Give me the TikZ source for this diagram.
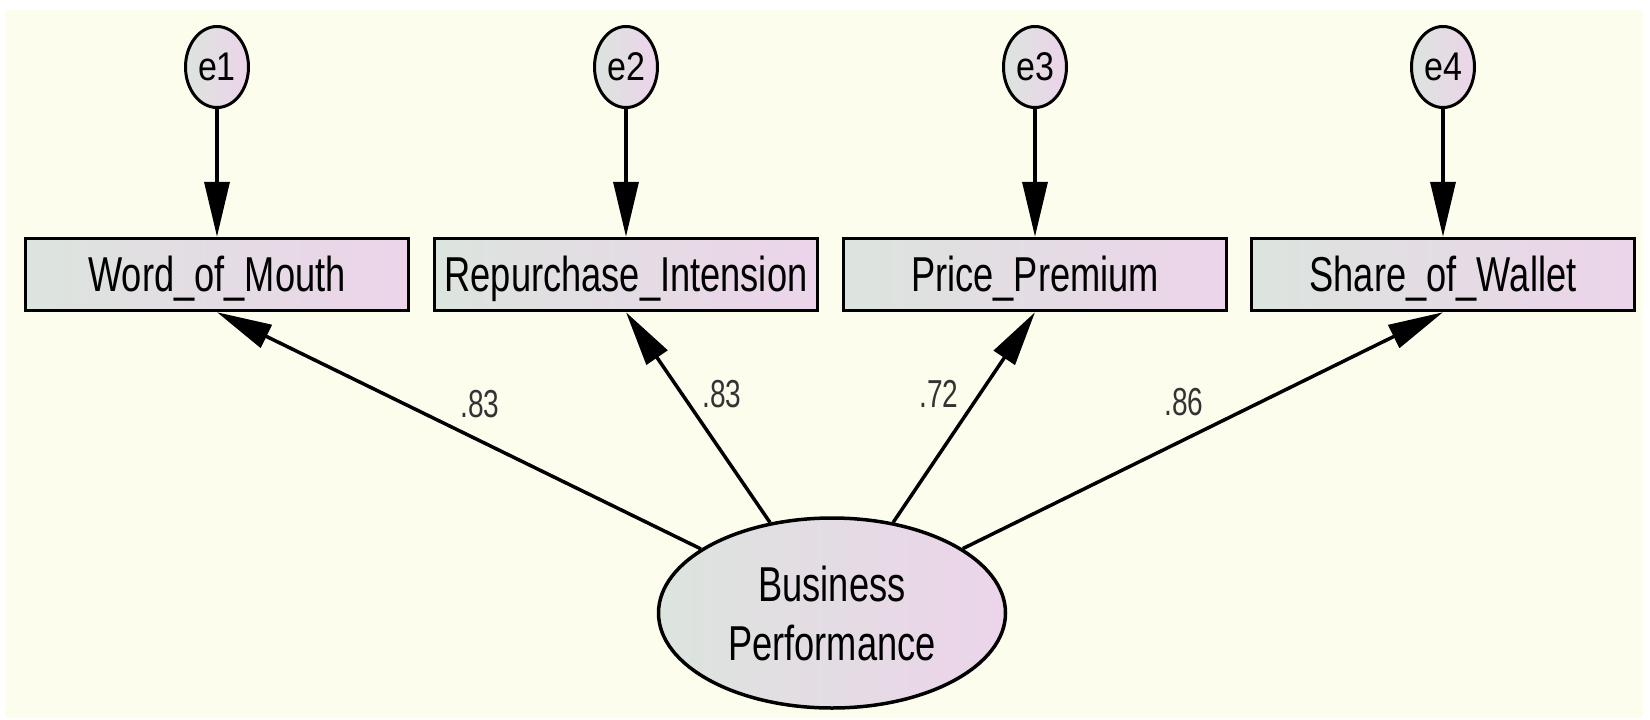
\documentclass[tikz,border=0pt]{standalone}
\usepackage{fontspec}
\setmainfont{Liberation Sans}
\newfontfamily\mainf[FakeStretch=0.74]{Liberation Sans}
\newfontfamily\labf[FakeStretch=0.72]{Liberation Sans}
\newfontfamily\ef[FakeStretch=0.85]{Liberation Sans}
\usetikzlibrary{arrows.meta,shapes.geometric}
\definecolor{bg}{HTML}{FDFDEE}
\definecolor{gl}{HTML}{DCE4DE}
\definecolor{gr}{HTML}{ECD4EA}
\begin{document}
\begin{tikzpicture}[x=1pt,y=-1pt,
  obs/.style={draw, line width=3.5pt, rectangle, minimum width=383pt, minimum height=72pt,
    inner sep=0pt, left color=gl, right color=gr, text height=33pt, text depth=0pt,
    font=\mainf\fontsize{49}{59}\selectfont},
  err/.style={draw, line width=3pt, ellipse, minimum width=63pt, minimum height=81pt,
    inner sep=0pt, left color=gl, right color=gr, font=\ef\fontsize{40}{42}\selectfont},
  lat/.style={draw, line width=3.5pt, ellipse, minimum width=347pt, minimum height=190pt,
    inner sep=0pt, left color=gl, right color=gr, align=center,
    font=\mainf\fontsize{49}{59}\selectfont},
  arr/.style={line width=3.5pt, -{Triangle[length=55pt,width=25pt]}},
  lab/.style={font=\labf\fontsize{39}{40}\selectfont, text=black!80, inner sep=0pt}
]
\fill[white] (0,0) rectangle (1650,720);
\fill[bg] (5,10) rectangle (1643,718);
\useasboundingbox (0,0) rectangle (1650,720);

\node[obs] (wom) at (217,274.5) {Word\_of\_Mouth};
\node[obs] (rep) at (626,274.5) {Repurchase\_Intension};
\node[obs] (pp)  at (1035,274.5) {Price\_Premium};
\node[obs] (sow) at (1443,274.5) {Share\_of\_Wallet};

\node[err] (e1) at (217,67) {e1};
\node[err] (e2) at (626,67) {e2};
\node[err] (e3) at (1035,67) {e3};
\node[err] (e4) at (1443,67) {e4};

\node[lat] (bp) at (832,613) {Business\\Performance};

\draw[arr] (e1) -- (wom);
\draw[arr] (e2) -- (rep);
\draw[arr] (e3) -- (pp);
\draw[arr] (e4) -- (sow);

\draw[arr] (bp) -- (wom.south);
\draw[arr] (bp) -- (rep.south);
\draw[arr] (bp) -- (pp.south);
\draw[arr] (bp) -- (sow.south);

\node[lab] (l1) at (480,404) {.83};
\node[lab] (l2) at (722,394) {.83};
\node[lab] (l3) at (939,394) {.72};
\node[lab] (l4) at (1184,402) {.86};
\end{tikzpicture}
\end{document}
